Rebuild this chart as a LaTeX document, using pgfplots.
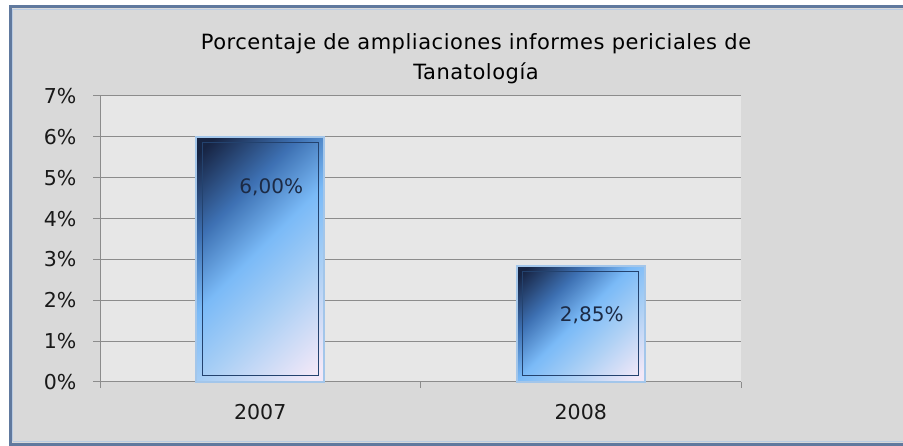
\documentclass[border=0pt]{standalone}
\usepackage{fontspec}
\setmainfont{DejaVu Sans}
\newfontfamily\titlefont[LetterSpace=2.5]{DejaVu Sans}
\usepackage{pgfplots}
\pgfplotsset{compat=1.18}

\definecolor{outerbg}{HTML}{D9D9D9}
\definecolor{plotbg}{HTML}{E7E7E7}
\definecolor{gridgray}{HTML}{8C8C8C}
\definecolor{framecol}{HTML}{60799E}
\definecolor{framelight}{HTML}{B9CBE2}
\definecolor{barborder}{HTML}{A3C6EA}
\definecolor{barinner}{HTML}{23426E}
\definecolor{labelcol}{HTML}{1C2A44}

\pgfdeclarehorizontalshading{barshade}{100bp}{%
  rgb(0bp)=(0.09,0.14,0.26);
  rgb(18bp)=(0.09,0.14,0.26);
  rgb(34bp)=(0.24,0.44,0.70);
  rgb(48bp)=(0.48,0.73,0.97);
  rgb(62bp)=(0.66,0.81,0.96);
  rgb(82bp)=(0.95,0.91,0.97);
  rgb(100bp)=(0.95,0.91,0.97)}

\pgfplotsset{
  chartframe/.style={
    at={(100bp,64bp)}, anchor=south west,
    scale only axis, width=641bp, height=286bp,
    xmin=-0.5, xmax=1.5, ymin=0, ymax=7,
  },
  shadedbar/.style={draw=barborder, line width=2bp, bar shift=0pt,
    shading=barshade, shading angle=-45},
}

\begin{document}
\begin{tikzpicture}[x=1bp,y=1bp]
\useasboundingbox (0,0) rectangle (903,446);
\fill[white] (0,0) rectangle (903,446);
\fill[outerbg] (10,2) rectangle (903,439);
\draw[framelight, line width=1.5bp] (12.5,4.5) -- (12.5,436.5) -- (903,436.5);
\draw[framelight, line width=1.5bp] (12.5,4.5) -- (903,4.5);
\draw[framecol, line width=3bp] (903,1.5) -- (10,1.5) -- (10,439) -- (903,439);

\node[font=\titlefont\fontsize{21bp}{30bp}\selectfont, align=center, text=black]
  at (476,387) {Porcentaje de ampliaciones informes periciales de\\Tanatología};

\begin{axis}[
  chartframe,
  axis background/.style={fill=plotbg},
  axis x line*=bottom, axis y line*=left,
  axis line style={gridgray, line width=1bp},
  xtick={0,1}, xticklabels={2007,2008},
  major x tick style={draw=none},
  minor xtick={-0.5,0.5,1.5},
  minor tick length=6bp,
  minor x tick style={gridgray, line width=1bp},
  ytick={0,1,2,3,4,5,6,7},
  yticklabel={\pgfmathprintnumber{\tick}\%},
  major tick length=7bp,
  tick align=outside,
  major y tick style={gridgray, line width=1bp},
  ymajorgrids, grid style={gridgray, line width=1bp},
  /pgf/number format/assume math mode=true,
  tick label style={font=\fontsize{20.5bp}{24bp}\selectfont, text=black!90},
  yticklabel style={xshift=-13bp},
  xticklabel style={yshift=-12bp},
  ybar, bar width=128bp,
  nodes near coords={\pgfmathprintnumber[fixed,fixed zerofill,precision=2,use comma]{\pgfplotspointmeta}\%},
  every node near coord/.append style={font=\fontsize{20bp}{24bp}\selectfont,
    text=labelcol, anchor=center, yshift=-50bp, xshift=11bp},
  clip=false,
]
\addplot[shadedbar] coordinates {(0,6.00)};
\addplot[shadedbar] coordinates {(1,2.85)};
\end{axis}

\begin{axis}[
  chartframe,
  hide axis,
  ybar stacked, bar width=116bp,
]
\addplot[draw=none, fill=none] coordinates {(0,0.16) (1,0.16)};
\addplot[draw=barinner, line width=1.2bp, fill=none] coordinates {(0,5.70) (1,2.55)};
\end{axis}
\end{tikzpicture}
\end{document}
